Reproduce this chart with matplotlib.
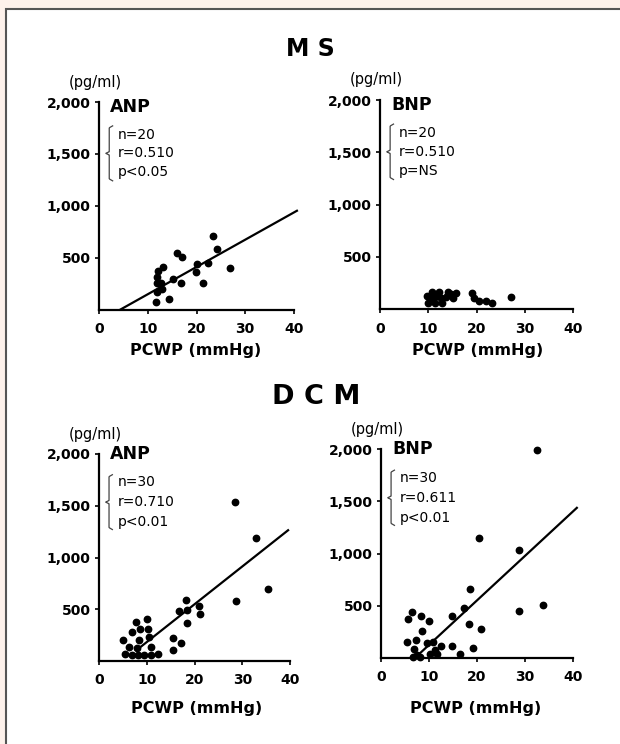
import numpy as np
import matplotlib.pyplot as plt
from matplotlib.patches import Rectangle

# MS group: PCWP (mmHg) vs ANP / BNP (pg/ml)
ms_pcwp_anp = [11.7, 14.3, 11.9, 12.9, 11.9, 12.7, 11.9, 12.0, 13.1, 15.1,
               16.9, 16.0, 17.0, 20.0, 19.9, 21.3, 22.3, 23.3, 24.2, 26.9]
ms_anp = [69, 104, 172, 195, 252, 252, 316, 374, 413, 294,
          259, 542, 509, 436, 364, 259, 451, 711, 580, 403]

ms_pcwp_bnp = [9.8, 10.0, 10.6, 10.8, 11.3, 11.7, 12.3, 12.6, 12.9, 13.6,
               14.0, 14.7, 15.2, 15.7, 19.1, 19.5, 20.6, 22.0, 23.3, 27.1]
ms_bnp = [128, 58, 106, 170, 58, 128, 170, 106, 58, 121,
          170, 147, 106, 160, 160, 106, 83, 83, 58, 121]

# DCM group
dcm_pcwp_anp = [5.1, 6.2, 6.9, 7.7, 8.6, 10.1, 10.2, 10.4, 8.3, 10.8,
                7.9, 5.4, 6.9, 8.1, 9.5, 10.9, 12.4, 15.6, 15.4, 17.1,
                16.65, 18.3, 18.4, 20.9, 21.1, 18.4, 28.5, 32.8, 35.3, 28.6]
dcm_anp = [203, 138, 278, 380, 307, 404, 307, 229, 203, 138,
           123, 68, 58, 58, 58, 58, 68, 106, 226, 177,
           487, 590, 494, 532, 458, 371, 1532, 1188, 700, 581]

dcm_pcwp_bnp = [18.5, 17.2, 14.7, 6.4, 5.6, 8.3, 9.9, 8.5, 18.3, 20.8,
                5.4, 7.3, 9.5, 10.9, 12.6, 14.7, 19.2, 16.5, 6.9, 7.4,
                6.7, 8.1, 10.2, 11.6, 11.3, 32.4, 20.4, 28.7, 28.75, 33.8]
dcm_bnp = [657, 475, 401, 442, 372, 401, 356, 260, 321, 273,
           148, 170, 138, 154, 112, 115, 90, 33, 81, 26,
           10, 10, 33, 33, 74, 1990, 1148, 1029, 452, 507]

# regression lines: slope, intercept, x range
ms_anp_fit = (26.3, -116.0)
ms_anp_line_x = [4.4, 40.6]
dcm_anp_fit = (36.5, -182.0)
dcm_anp_line_x = [7.9, 39.6]
dcm_bnp_fit = (42.7, -304.0)
dcm_bnp_line_x = [7.5, 40.8]

ms_anp_stats = ['n=20', 'r=0.510', 'p<0.05']
ms_bnp_stats = ['n=20', 'r=0.510', 'p=NS']
dcm_anp_stats = ['n=30', 'r=0.710', 'p<0.01']
dcm_bnp_stats = ['n=30', 'r=0.611', 'p<0.01']

x_ticks = [0, 10, 20, 30, 40]
y_ticks = [500, 1000, 1500, 2000]
y_tick_labels = ['500', '1,000', '1,500', '2,000']

W, H = 620, 744
fig = plt.figure(figsize=(W / 100, H / 100), dpi=100)
fig.patch.set_facecolor('#fdf1eb')
fig.patches.append(Rectangle((6 / W, -0.1), 1.2, (H - 9) / H + 0.1,
                             transform=fig.transFigure, facecolor='white',
                             edgecolor='#555555', linewidth=1.5, zorder=-10))


def add_ax(left, right, bottom, top):
    return fig.add_axes([left / W, 1 - bottom / H, (right - left) / W, (bottom - top) / H])


def draw_panel(ax, x, y, name, stats, fit=None, line_x=None, name_y=2035, stat_y=1685, stat_dy=180):
    ax.set_facecolor('none')
    ax.plot(x, y, 'o', color='black', markersize=4.6, clip_on=False)
    if fit is not None:
        lx = np.array(line_x)
        ax.plot(lx, fit[0] * lx + fit[1], color='black', lw=1.6, clip_on=False)
    ax.set_xlim(0, 40)
    ax.set_ylim(0, 2000)
    for s in ['top', 'right']:
        ax.spines[s].set_visible(False)
    for s in ['left', 'bottom']:
        ax.spines[s].set_linewidth(1.6)
    ax.set_xticks(x_ticks)
    ax.set_yticks(y_ticks)
    ax.set_yticklabels(y_tick_labels)
    ax.tick_params(length=3, width=1.2, labelsize=10, pad=3)
    ax.tick_params(axis='x', pad=6)
    for lab in ax.get_xticklabels() + ax.get_yticklabels():
        lab.set_fontweight('bold')
    ax.text(-0.02, 1.06, '(pg/ml)', transform=ax.transAxes, fontsize=10.5,
            ha='center', va='bottom')
    ax.text(2.3, name_y, name, fontsize=12.5, fontweight='heavy', va='top', clip_on=False)
    # curly bracket
    t = np.linspace(-1, 1, 101)
    bx = 2.1 + np.where(np.abs(t) > 0.93, 0.7 * (np.abs(t) - 0.93) / 0.07, 0) \
        - np.where(np.abs(t) < 0.06, 0.7 * (0.06 - np.abs(t)) / 0.06, 0)
    ax.plot(bx, stat_y - stat_dy + 265 * t, color='#444444', lw=0.9, clip_on=False)
    for i, s in enumerate(stats):
        ax.text(3.9, stat_y - i * stat_dy, s, fontsize=10, va='center')


ax1 = add_ax(99, 294, 309.5, 102)
draw_panel(ax1, ms_pcwp_anp, ms_anp, 'ANP', ms_anp_stats, ms_anp_fit, ms_anp_line_x)
ax2 = add_ax(380, 573, 309.3, 100)
draw_panel(ax2, ms_pcwp_bnp, ms_bnp, 'BNP', ms_bnp_stats)
ax3 = add_ax(99, 290, 661, 454)
draw_panel(ax3, dcm_pcwp_anp, dcm_anp, 'ANP', dcm_anp_stats, dcm_anp_fit, dcm_anp_line_x,
           name_y=2090, stat_y=1725, stat_dy=190)
ax4 = add_ax(381, 573, 657.7, 449.3)
draw_panel(ax4, dcm_pcwp_bnp, dcm_bnp, 'BNP', dcm_bnp_stats, dcm_bnp_fit, dcm_bnp_line_x,
           name_y=2090, stat_y=1725, stat_dy=190)

fig.text(310 / W, 1 - 49 / H, 'M S', fontsize=17, fontweight='bold', ha='center', va='center')
fig.text(316 / W, 1 - 397 / H, 'D C M', fontsize=19.5, fontweight='bold', ha='center', va='center')
for xc, yc in [(196, 350), (478, 350), (197, 709), (476, 709)]:
    fig.text(xc / W, 1 - yc / H, 'PCWP (mmHg)', fontsize=11.5, fontweight='bold',
             ha='center', va='center')

fig.savefig('out.png', dpi=100, facecolor=fig.get_facecolor())
